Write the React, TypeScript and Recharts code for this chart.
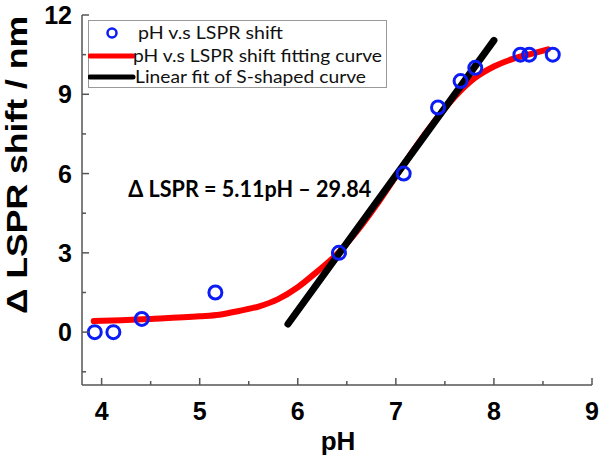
import React from 'react';
import { ComposedChart, Line, Scatter, XAxis, YAxis, Legend, ReferenceDot } from 'recharts';

const measuredPH = [3.93, 4.12, 4.41, 5.16, 6.42, 7.08, 7.43, 7.66, 7.81, 8.27, 8.36, 8.6];
const measuredShift = [0, 0, 0.5, 1.5, 3.0, 6.0, 8.5, 9.5, 10.0, 10.5, 10.5, 10.5];

const fitPH = [3.92, 4.2, 4.5, 5.0, 5.2, 5.4, 5.6, 5.8, 6.0, 6.2, 6.4, 6.6, 6.8, 7.0, 7.2, 7.4, 7.6, 7.8, 8.0, 8.2, 8.4, 8.55];
const fitShift = [0.42, 0.45, 0.5, 0.6, 0.66, 0.8, 0.97, 1.25, 1.7, 2.3, 2.95, 3.8, 4.8, 5.9, 7.0, 8.0, 8.9, 9.6, 10.05, 10.35, 10.55, 10.7];

const linearPH = [5.9, 8.0];
const linearShift = [0.31, 11.04];

const xTicks = [4, 4.5, 5, 5.5, 6, 6.5, 7, 7.5, 8, 8.5, 9];
const yTicks = [-1.5, 0, 1.5, 3, 4.5, 6, 7.5, 9, 10.5, 12];
const majorYTicks = [0, 3, 6, 9, 12];

const seriesNames = ['pH v.s LSPR shift', 'pH v.s LSPR shift fitting curve', 'Linear fit of S-shaped curve'];
const equationText = 'Δ LSPR = 5.11pH – 29.84';
const xLabel = 'pH';
const yLabel = 'Δ LSPR shift / nm';

const measuredData = measuredPH.map((x, i) => ({ x, y: measuredShift[i] }));
const fitData = fitPH.map((x, i) => ({ x, y: fitShift[i] }));
const linearData = linearPH.map((x, i) => ({ x, y: linearShift[i] }));

const FRAME = '#555';
const TICK_FONT = '"Liberation Sans", Arial, sans-serif';

const XTick = (props: any) => {
  const { x, y, payload } = props;
  const v = payload.value;
  const major = Number.isInteger(v);
  return (
    <g>
      <line x1={x} x2={x} y1={y} y2={y - (major ? 7 : 4)} stroke={FRAME} strokeWidth={1.5} />
      {major && (
        <text x={x} y={y + 26} textAnchor="middle" dominantBaseline="central" fontFamily={TICK_FONT} fontWeight="bold" fontSize={25} fill="#000">
          {v}
        </text>
      )}
    </g>
  );
};

const YTick = (props: any) => {
  const { x, y, payload } = props;
  const v = payload.value;
  const major = majorYTicks.includes(v);
  return (
    <g>
      <line x1={x} x2={x + (major ? 7 : 4)} y1={y} y2={y} stroke={FRAME} strokeWidth={1.5} />
      {major && (
        <text x={x - 10} y={y} textAnchor="end" dominantBaseline="central" fontFamily={TICK_FONT} fontWeight="bold" fontSize={25} fill="#000">
          {v}
        </text>
      )}
    </g>
  );
};

const CircleShape = (p: any) => (
  <circle cx={p.cx} cy={p.cy} r={6.5} fill="none" stroke="#0b1cf5" strokeWidth={3} />
);

const LegendBox = () => (
  <svg width={300} height={69} style={{ display: 'block' }}>
    <rect x={0.5} y={0.5} width={298} height={67} fill="#fff" stroke="#999" strokeWidth={1} />
    <circle cx={24} cy={13} r={4.5} fill="none" stroke="#0b1cf5" strokeWidth={2.5} />
    <line x1={2} x2={45} y1={36} y2={36} stroke="#ff0000" strokeWidth={5} strokeLinecap="round" />
    <line x1={2} x2={45} y1={57} y2={57} stroke="#000" strokeWidth={5} strokeLinecap="round" />
    <text x={50} y={13} dominantBaseline="central" fontFamily="Lato, sans-serif" fontSize={16.5} textLength={145} lengthAdjust="spacingAndGlyphs" fill="#111">{seriesNames[0]}</text>
    <text x={45} y={36} dominantBaseline="central" fontFamily="Lato, sans-serif" fontSize={16.5} textLength={249} lengthAdjust="spacingAndGlyphs" fill="#111">{seriesNames[1]}</text>
    <text x={47} y={57} dominantBaseline="central" fontFamily="Lato, sans-serif" fontSize={16.5} textLength={231} lengthAdjust="spacingAndGlyphs" fill="#111">{seriesNames[2]}</text>
  </svg>
);

const EquationShape = (p: any) => (
  <text x={p.cx} y={p.cy} textAnchor="middle" dominantBaseline="central" fontFamily="Lato, sans-serif" fontWeight="bold" fontSize={22} textLength={243} lengthAdjust="spacingAndGlyphs" fill="#000">
    {equationText}
  </text>
);

export default function App() {
  return (
    <div style={{ position: 'absolute', left: 0, top: 0, width: 600, height: 465, background: '#fff' }}>
      <ComposedChart width={600} height={465} margin={{ top: 15, right: 8, bottom: 40, left: 22 }}>
        <XAxis
          dataKey="x"
          type="number"
          domain={[3.8, 9]}
          ticks={xTicks}
          interval={0}
          allowDataOverflow
          height={40}
          tickSize={0}
          tickMargin={0}
          tickLine={false}
          axisLine={{ stroke: FRAME, strokeWidth: 1.5 }}
          tick={<XTick />}
          label={{
            content: () => (
              <text x={338} y={441} textAnchor="middle" dominantBaseline="central" fontFamily={TICK_FONT} fontWeight="bold" fontSize={26} fill="#000">{xLabel}</text>
            ),
          }}
        />
        <XAxis xAxisId="top" orientation="top" type="number" domain={[3.8, 9]} height={0} tick={false} tickLine={false} axisLine={{ stroke: FRAME, strokeWidth: 1.5 }} />
        <YAxis
          type="number"
          domain={[-2, 12]}
          ticks={yTicks}
          interval={0}
          allowDataOverflow
          width={60}
          tickSize={0}
          tickMargin={0}
          tickLine={false}
          axisLine={{ stroke: FRAME, strokeWidth: 1.5 }}
          tick={<YTick />}
          label={{
            content: () => (
              <text transform="translate(16,165) rotate(-90)" textAnchor="middle" dominantBaseline="central" fontFamily={TICK_FONT} fontWeight="bold" fontSize={30} textLength={298} lengthAdjust="spacingAndGlyphs" fill="#000">{yLabel}</text>
            ),
          }}
        />
        <YAxis yAxisId="right" orientation="right" type="number" domain={[-2, 12]} width={0} tick={false} tickLine={false} axisLine={{ stroke: FRAME, strokeWidth: 1.5 }} />
        <Legend
          layout="vertical"
          align="center"
          verticalAlign="middle"
          wrapperStyle={{ left: 88, top: 20, width: 300, height: 69 }}
          content={() => <LegendBox />}
        />
        <Scatter name={seriesNames[0]} data={measuredData} dataKey="y" shape={<CircleShape />} isAnimationActive={false} />
        <Line name={seriesNames[1]} data={fitData} dataKey="y" type="monotone" stroke="#ff0000" strokeWidth={6} dot={false} activeDot={false} isAnimationActive={false} strokeLinecap="round" />
        <Line name={seriesNames[2]} data={linearData} dataKey="y" type="linear" stroke="#000" strokeWidth={7} dot={false} activeDot={false} isAnimationActive={false} strokeLinecap="round" />
        <ReferenceDot x={5.51} y={5.45} r={0} shape={<EquationShape />} />
      </ComposedChart>
    </div>
  );
}
